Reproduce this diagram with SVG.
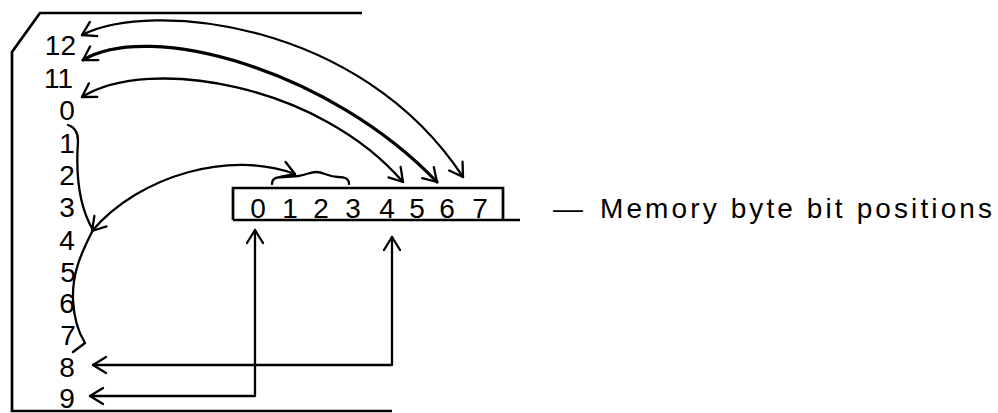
<svg xmlns="http://www.w3.org/2000/svg" width="998" height="413" viewBox="0 0 998 413">
<style>
.t{font-family:"Liberation Sans",Arial,sans-serif;font-size:28px;fill:#000}
.m{text-anchor:middle}
.e{text-anchor:end}
.ln{fill:none;stroke:#000;stroke-width:2.3;stroke-linecap:round;stroke-linejoin:round}
.fr{fill:none;stroke:#000;stroke-width:2.7}
</style>
<defs>
<marker id="ah" viewBox="-16 -10 18 20" refX="0" refY="0" markerWidth="18" markerHeight="20" markerUnits="userSpaceOnUse" orient="auto-start-reverse">
<path d="M-13,-8 L0,0 L-13,8" fill="none" stroke="#000" stroke-width="2.3" stroke-linecap="round" stroke-linejoin="round"/>
</marker>
</defs>
<rect width="998" height="413" fill="#fff"/>
<g id="frame">
<path class="fr" d="M362,13 L40,13 L12,52 L12,411 L392,411"/>
</g>
<g id="register-bits">
<text class="t e" x="76" y="55">12</text>
<text class="t e" x="73" y="88">11</text>
<text class="t m" x="67" y="120">0</text>
<text class="t m" x="67" y="153">1</text>
<text class="t m" x="67" y="185">2</text>
<text class="t m" x="67" y="217">3</text>
<text class="t m" x="67" y="250">4</text>
<text class="t m" x="68" y="282">5</text>
<text class="t m" x="67" y="313">6</text>
<text class="t m" x="68" y="345">7</text>
<text class="t m" x="67" y="377">8</text>
<text class="t m" x="67" y="408">9</text>
</g>
<g id="memory-byte">
<path class="fr" d="M233,220 L233,188 L503,188 L503,220 M233,220 L520,220"/>
<text class="t m" x="258" y="218">0</text>
<text class="t m" x="290" y="218">1</text>
<text class="t m" x="321" y="218">2</text>
<text class="t m" x="353" y="218">3</text>
<text class="t m" x="387" y="218">4</text>
<text class="t m" x="417" y="218">5</text>
<text class="t m" x="447" y="218">6</text>
<text class="t m" x="480" y="218">7</text>
</g>
<g id="label">
<text class="t" x="553" y="218"><tspan textLength="30" lengthAdjust="spacingAndGlyphs">—</tspan><tspan x="600" textLength="392" lengthAdjust="spacing">Memory byte bit positions</tspan></text>
</g>
<g id="connectors">
<path class="ln" d="M82,35 C150,0 360,20 463,177" marker-start="url(#ah)" marker-end="url(#ah)"/>
<path class="ln" style="stroke-width:3.2" d="M83,60 C150,20 330,70 437,182" marker-start="url(#ah)" marker-end="url(#ah)"/>
<path class="ln" d="M82,97 C150,55 320,85 403,182" marker-start="url(#ah)" marker-end="url(#ah)"/>
<path class="ln" d="M92,231 C140,175 230,150 295,174" marker-start="url(#ah)" marker-end="url(#ah)"/>
<path class="ln" d="M68,125 Q78,128 78,141 C76,170 78,205 93,230 C80,255 72,275 73,300 C74,320 80,335 85,343 L73,352"/>
<path class="ln" d="M272,184 C272,179 275,177 284,177 L298,176 C306,175 310,172 316,172 C324,172 328,177 338,177 C346,177 349,179 349,184"/>
<path class="ln" d="M255,230 L255,396 L90,396" marker-start="url(#ah)" marker-end="url(#ah)"/>
<path class="ln" d="M392,237 L392,365 L93,365" marker-start="url(#ah)" marker-end="url(#ah)"/>
</g>
</svg>
